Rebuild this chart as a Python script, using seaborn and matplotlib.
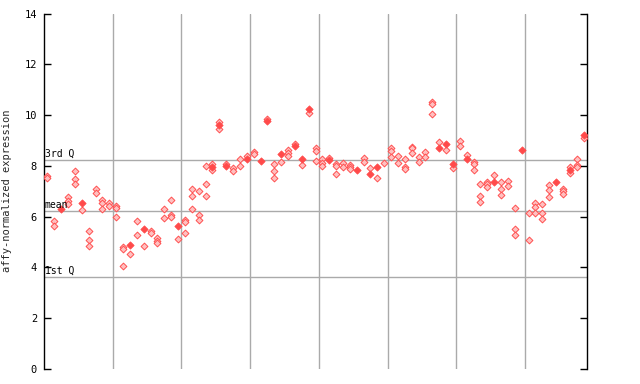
import matplotlib
matplotlib.use("Agg")
from matplotlib import pyplot as plt
import pandas as pd
import seaborn as sns

# sample columns (10 per block); hollow = replicate points, filled = highlighted point
hollow_vals = [
    [7.60, 7.52], [5.83, 5.63], [], [6.77, 6.62, 6.50], [7.78, 7.47, 7.30],
    [6.25], [5.43, 5.08, 4.83], [7.07, 6.92], [6.64, 6.52, 6.29], [6.52, 6.42],
    [6.42, 6.35, 5.98], [4.82, 4.74, 4.04], [4.52], [5.81, 5.26], [4.84],
    [5.45, 5.34], [5.14, 5.05, 4.95], [6.29, 5.93], [6.65, 6.05, 5.97], [5.11],
    [5.87, 5.79, 5.35], [7.09, 6.80, 6.30], [7.01, 6.05, 5.85], [7.99, 7.27, 6.80], [8.07, 7.83],
    [9.72, 9.46], [8.06], [7.90, 7.78], [8.26, 7.98], [8.37],
    [8.53, 8.45], [], [9.83], [8.06, 7.78, 7.51], [8.14],
    [8.61, 8.49, 8.37], [8.88], [8.02], [10.10], [8.72, 8.57, 8.18],
    [8.26, 8.10, 7.98], [8.30], [8.06, 7.98, 7.67], [8.10, 7.94], [8.02, 7.94, 7.86],
    [], [8.30, 8.14], [7.90], [7.51], [8.10],
    [8.72, 8.57, 8.33], [8.37, 8.10], [8.26, 7.94, 7.86], [8.76, 8.69, 8.49], [8.33, 8.14],
    [8.53, 8.33], [10.50, 10.42, 10.03], [8.93], [8.61], [7.90],
    [8.96, 8.80], [8.41], [8.14, 8.06, 7.82], [7.27, 6.80, 6.56], [7.35, 7.27, 7.15],
    [7.63], [7.35, 7.07, 6.84], [7.39, 7.19], [6.33, 5.50, 5.26], [],
    [6.13, 5.07], [6.52, 6.37, 6.13], [6.48, 6.13, 5.89], [7.23, 7.04, 6.76], [],
    [7.07, 7.00, 6.88], [7.94, 7.70], [8.26, 8.02, 7.94], [9.08],
]
filled_cols = [2, 5, 12, 14, 19, 24, 25, 26, 29, 31, 32, 34, 36, 37, 38, 41, 45, 47, 48,
               57, 58, 59, 61, 65, 69, 74, 76, 78]
filled_vals = [6.31, 6.55, 4.88, 5.52, 5.64, 7.96, 9.59, 7.98, 8.26, 8.18, 9.77, 8.45, 8.80,
               8.26, 10.22, 8.22, 7.82, 7.67, 7.94, 8.69, 8.85, 8.06, 8.26, 7.35, 8.61, 7.35,
               7.82, 9.20]

q1, mean, q3 = 3.62, 6.22, 8.22
stat_labels = ["1st Q", "mean", "3rd Q"]

sns.set_style("white")
plt.rcParams["font.family"] = ["DejaVu Sans Mono", "DejaVu Sans"]

n_cols = len(hollow_vals)
hollow = pd.DataFrame(
    [(i + 0.5, v) for i, vals in enumerate(hollow_vals) for v in vals],
    columns=["x", "y"])
filled = pd.DataFrame({"x": [c + 0.5 for c in filled_cols], "y": filled_vals})

fig = plt.figure(figsize=(6.4, 3.84), dpi=100)
ax = fig.add_axes([44 / 640, 1 - 369 / 384, 543 / 640, 355.5 / 384])

for v in (q1, mean, q3):
    ax.axhline(v, color="#aaaaaa", lw=1, zorder=1)
for b in range(10, n_cols, 10):
    ax.axvline(b, color="#aaaaaa", lw=1, zorder=1)

sns.scatterplot(data=hollow, x="x", y="y", ax=ax, marker="D", s=12,
                facecolor="#ffc0c0", edgecolor="#ff5050", linewidth=0.7, zorder=3)
sns.scatterplot(data=filled, x="x", y="y", ax=ax, marker="D", s=14,
                color="#ff4a4a", edgecolor="#ff4a4a", linewidth=0.5, zorder=4)

for v, lab in zip((q1, mean, q3), stat_labels):
    ax.text(0.1, v + 0.06, lab, fontsize=7, color="black", va="bottom", ha="left", zorder=5)

ax.set_xlim(0, n_cols)
ax.set_ylim(0, 14)
ax.set_yticks(range(0, 15, 2))
ax.set_xticks([])
ax.set_xlabel("")
ax.set_ylabel("affy-normalized expression", fontsize=7.5)
ax.yaxis.set_label_coords(-32 / 543, 0.5)
ax.tick_params(axis="y", direction="in", length=5, width=1, labelsize=7.5, pad=5,
               left=True, right=True, colors="black")
for side in ("top", "bottom"):
    ax.spines[side].set_visible(False)
for side in ("left", "right"):
    ax.spines[side].set_color("black")
    ax.spines[side].set_linewidth(1)

plt.savefig("out.png", dpi=100)
